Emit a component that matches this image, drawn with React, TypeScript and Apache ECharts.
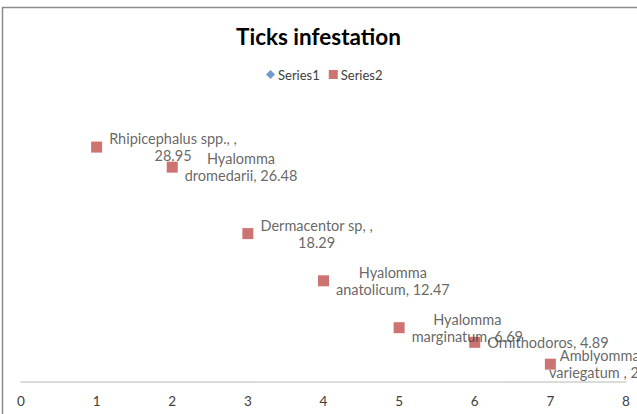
import React, { useEffect, useRef } from "react";
import * as echarts from "echarts";

const xValues = [1, 2, 3, 4, 5, 6, 7];
const yValues = [28.95, 26.48, 18.29, 12.47, 6.69, 4.89, 2.2];
const labelLines = [
  ["Rhipicephalus spp., ,", "28.95"],
  ["Hyalomma", "dromedarii, 26.48"],
  ["Dermacentor sp, ,", "18.29"],
  ["Hyalomma", "anatolicum, 12.47"],
  ["Hyalomma", "marginatum, 6.69"],
  ["Ornithodoros, 4.89"],
  ["Amblyomma", "variegatum , 2.2"],
];
const xTicks = [0, 1, 2, 3, 4, 5, 6, 7, 8];
const seriesNames = ["Series1", "Series2"];
const titleText = "Ticks infestation";

const FONT = "Lato, 'Open Sans', sans-serif";

export default function App() {
  const ref = useRef<HTMLDivElement>(null);
  useEffect(() => {
    if (!ref.current) return;
    const chart = echarts.init(ref.current, undefined, { renderer: "svg" });
    const data = xValues.map((x, i) => {
      const item: any = {
        value: [x, yValues[i]],
        label: {
          formatter: labelLines[i].map((l) => `{c|${l}}`).join("\n"),
        },
      };
      if (i === 6) item.label.offset = [-14, 0];
      return item;
    });
    chart.setOption({
      animation: false,
      backgroundColor: "#ffffff",
      textStyle: { fontFamily: FONT },
      title: {
        text: titleText,
        left: "center",
        top: 20,
        textStyle: { fontFamily: FONT, fontSize: 22.5, fontWeight: "bold", color: "#000000" },
      },
      legend: {
        data: [
          { name: seriesNames[0], icon: "diamond" },
          { name: seriesNames[1], icon: "rect" },
        ],
        top: 63,
        left: 261,
        itemWidth: 9,
        itemHeight: 9,
        itemGap: 9,
        textStyle: { fontFamily: FONT, fontSize: 13, color: "#404040", padding: [0, 0, 0, -2] },
      },
      grid: { left: 21, right: 11, top: 98, bottom: 32, containLabel: false },
      xAxis: {
        type: "value",
        min: xTicks[0],
        max: xTicks[xTicks.length - 1],
        interval: 1,
        axisLine: { show: true, lineStyle: { color: "#D0D0D0", width: 1.5 } },
        axisTick: { show: false },
        splitLine: { show: false },
        axisLabel: { color: "#404040", fontSize: 13.5, margin: 12, fontFamily: FONT },
      },
      yAxis: {
        type: "value",
        min: 0,
        max: 35,
        interval: 5,
        show: false,
        splitLine: { show: false },
      },
      graphic: [
        {
          type: "rect",
          shape: { x: 2.5, y: 7.5, width: 700, height: 500 },
          style: { fill: "none", stroke: "#8C8C8C", lineWidth: 1.5 },
          silent: true,
        },
      ],
      series: [
        {
          name: seriesNames[0],
          type: "scatter",
          symbol: "diamond",
          itemStyle: { color: "#4F81BD" },
          data: [],
        },
        {
          name: seriesNames[1],
          type: "scatter",
          symbol: "rect",
          symbolSize: 11,
          itemStyle: { color: "#C0504D" },
          data,
          label: {
            show: true,
            position: "right",
            distance: 7,
            color: "#404040",
            fontSize: 14.5,
            fontFamily: FONT,
            lineHeight: 17,
            rich: {
              c: { align: "center", fontSize: 14.5, lineHeight: 17, color: "#404040", fontFamily: FONT },
            },
          },
        },
      ],
    });
    return () => chart.dispose();
  }, []);
  return (
    <div
      ref={ref}
      style={{ position: "absolute", left: 0, top: 0, width: 637, height: 414 }}
    />
  );
}
